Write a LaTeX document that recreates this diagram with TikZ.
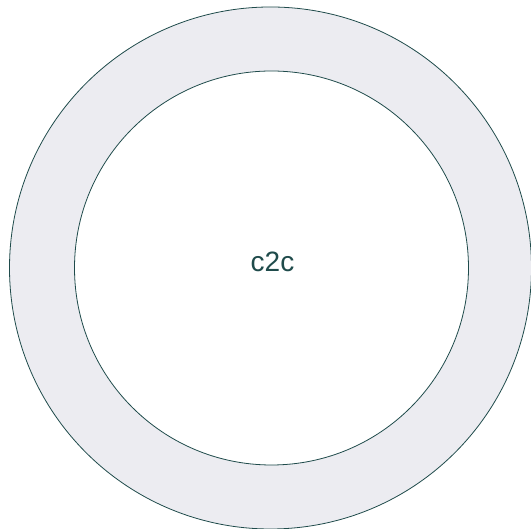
\documentclass[tikz,border=0pt]{standalone}
\usepackage{fontspec}
\setmainfont{Liberation Sans}
\usetikzlibrary{positioning}
\definecolor{ringfill}{HTML}{ECECF1}
\definecolor{ringline}{HTML}{1F4B4B}

\begin{document}
\begin{tikzpicture}[
        x=1pt,
        y=1pt,
        outer/.style={circle, draw=ringline, line width=0.8pt, fill=ringfill, minimum size=522pt, inner sep=0pt},
        inner/.style={circle, draw=ringline, line width=0.8pt, fill=white, minimum size=394pt, inner sep=0pt},
        lbl/.style={font=\fontsize{28}{34}\selectfont, text=ringline, inner sep=0pt, anchor=base}
    ]
        \useasboundingbox (0,0) rectangle (531,529);
        \node[outer] (ring) at (270.5,261) {};
        \node[inner] (hole) at (271.5,261) {};
        \node[lbl] (c2c) at ([xshift=1pt, yshift=-4pt]hole.center) {c2c};
    \end{tikzpicture}
\end{document}
